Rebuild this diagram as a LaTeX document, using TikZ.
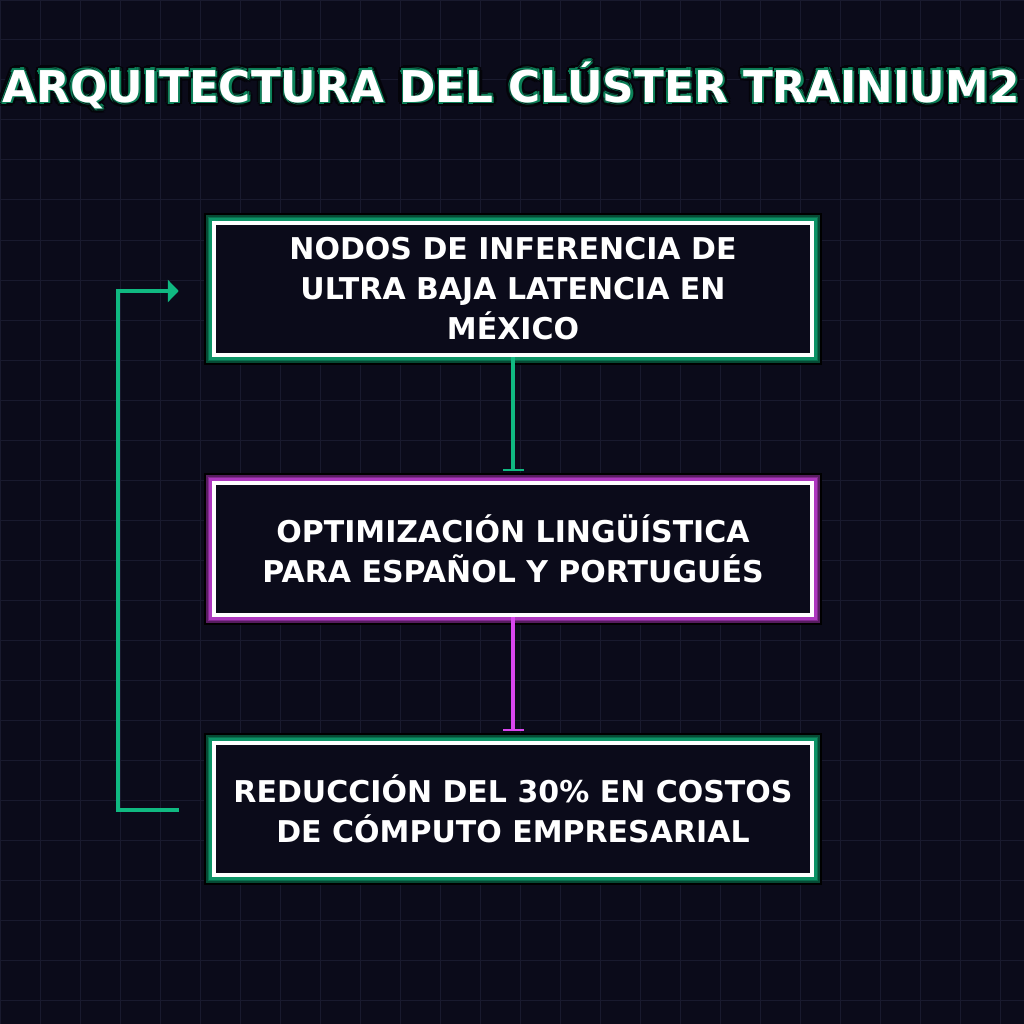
\documentclass[tikz,border=0pt]{standalone}
\usepackage{fontspec}
\setmainfont{DejaVu Sans}
\usepackage{tikz}
\usetikzlibrary{arrows.meta,calc}
\usepackage{xcolor}
\definecolor{fond}{HTML}{0B0B1A}
\definecolor{grille}{HTML}{191A2E}
\definecolor{vert}{HTML}{10B981}
\definecolor{vertfonce}{HTML}{0A5C3E}
\definecolor{magenta}{HTML}{D946EF}

\begin{document}
\begin{tikzpicture}[x=1pt,y=-1pt]
% Le fond et la grille
\fill[fond] (0,0) rectangle (1024,1024);
\useasboundingbox (0,0) rectangle (1024,1024);
\draw[grille,line width=1pt] (0,0) grid[step=40pt] (1024,1024);

% Les styles
\tikzstyle{caja}=[draw=white,line width=4.5pt,fill=fond,minimum width=598pt,
                  minimum height=132pt,align=center,text=white,inner sep=0pt,
                  font=\fontsize{30}{40}\selectfont\bfseries]
\tikzstyle{flecha}=[line width=4pt,-{Bar[width=21pt,line width=2pt]}]
\tikzstyle{titulo}=[font=\fontsize{43.8}{50}\selectfont\bfseries]

% Le titre avec son halo
\foreach \a in {0,30,...,359}{
    \node[titulo,text=black!60!fond] at ($(511,85)+(\a:4.5pt)$)
        {ARQUITECTURA DEL CLÚSTER TRAINIUM2};
    \node[titulo,text=vertfonce!60!vert] at ($(511,85)+(\a:2.6pt)$)
        {ARQUITECTURA DEL CLÚSTER TRAINIUM2};
}
\node[titulo,text=white] (titre) at (511,85) {ARQUITECTURA DEL CLÚSTER TRAINIUM2};

% Les halos des boîtes
\foreach \y/\c in {289/vert, 549/magenta, 809/vert}{
    \draw[black,line width=19.5pt] (214,\y-66) rectangle (812,\y+66);
    \draw[\c!40!black,line width=16pt] (214,\y-66) rectangle (812,\y+66);
    \draw[\c!60!black,line width=12.5pt] (214,\y-66) rectangle (812,\y+66);
    \draw[\c!80!black,line width=9.5pt] (214,\y-66) rectangle (812,\y+66);
}

% Les boîtes
\foreach \y/\num/\texte in {289/nodos/{NODOS DE INFERENCIA DE\\ULTRA BAJA LATENCIA EN\\MÉXICO},
                           549/optim/{OPTIMIZACIÓN LINGÜÍSTICA\\PARA ESPAÑOL Y PORTUGUÉS},
                           809/reduc/{REDUCCIÓN DEL 30\% EN COSTOS\\DE CÓMPUTO EMPRESARIAL}}{
    \node[caja] (\num) at (513,\y) {\texte};
}

% Les flèches entre les boîtes
\draw[flecha,vert] (nodos.south) -- ([yshift=10pt]optim.north);
\draw[flecha,magenta] (optim.south) -- ([yshift=10pt]reduc.north);

% La boucle de retour
\coordinate (retour) at ([xshift=-33pt,yshift=-1pt]reduc.west);
\draw[vert,line width=4pt,-{Triangle[length=11pt,width=22pt]}]
    (retour) -- ++(-61,0) |- ([xshift=-33pt,yshift=-2pt]nodos.west);
\end{tikzpicture}
\end{document}
